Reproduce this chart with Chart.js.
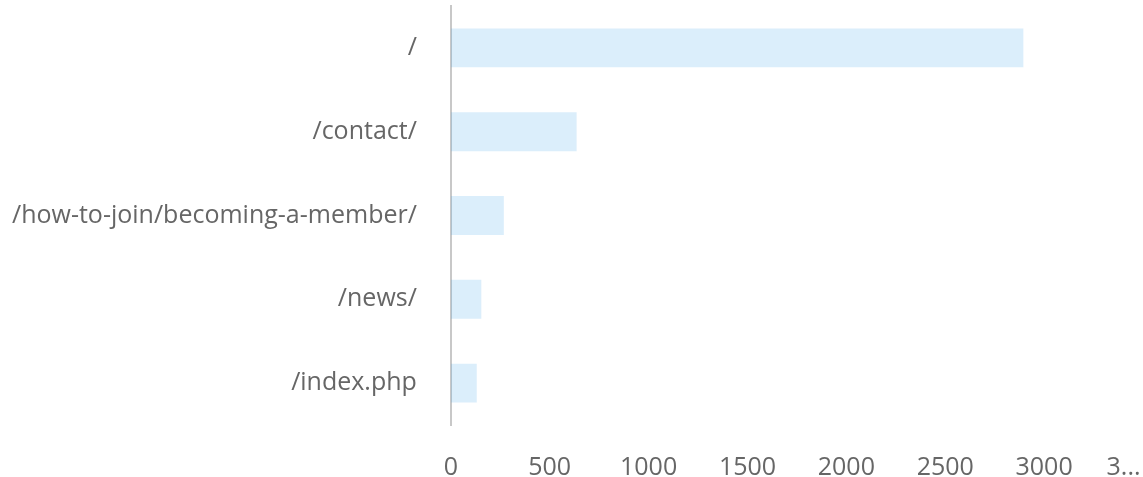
<!DOCTYPE html>
<html>
<head>
<meta charset="utf-8">
<script src="https://cdn.jsdelivr.net/npm/chart.js@4.4.1/dist/chart.umd.min.js"></script>
<style>
  html, body { margin: 0; padding: 0; background: #fff; }
  #wrap { width: 1143px; height: 477px; position: relative; }
</style>
</head>
<body>
<div id="wrap"><canvas id="c"></canvas></div>
<script>
const categories = ["/", "/contact/", "/how-to-join/becoming-a-member/", "/news/", "/index.php"];
const pageViews = [2895, 636, 268, 154, 131];
const tickValues = [0, 500, 1000, 1500, 2000, 2500, 3000, 3500];
const tickLabels = ["0", "500", "1000", "1500", "2000", "2500", "3000", "3...      "];

Chart.defaults.font.family = "'Open Sans', sans-serif";
Chart.defaults.font.size = 25;
Chart.defaults.color = "#666";

new Chart(document.getElementById("c"), {
  type: "bar",
  data: {
    labels: categories,
    datasets: [{
      data: pageViews,
      backgroundColor: "rgba(54,162,235,0.18)",
      borderWidth: 0,
      barPercentage: 0.58,
      categoryPercentage: 0.8
    }]
  },
  options: {
    indexAxis: "y",
    responsive: true,
    maintainAspectRatio: false,
    animation: false,
    layout: { padding: { left: 0, top: 6, right: 0, bottom: 0 } },
    plugins: { legend: { display: false }, tooltip: { enabled: false } },
    scales: {
      x: {
        min: 0,
        max: 3500,
        grid: { display: false },
        border: { display: false },
        afterBuildTicks: (scale) => { scale.ticks = tickValues.map(v => ({ value: v })); },
        afterFit: (scale) => { scale.paddingRight = 0; scale.height = 52; },
        ticks: {
          padding: 20,
          maxRotation: 0,
          autoSkip: false,
          callback: (v, i) => tickLabels[i]
        }
      },
      y: {
        grid: { display: false },
        border: { display: true, color: "#c8c8c8", width: 2 },
        afterFit: (scale) => { scale.paddingTop = 0; scale.paddingBottom = 0; scale.width = scale.width - 14; },
        ticks: { padding: 26 }
      }
    }
  }
});
</script>
</body>
</html>
